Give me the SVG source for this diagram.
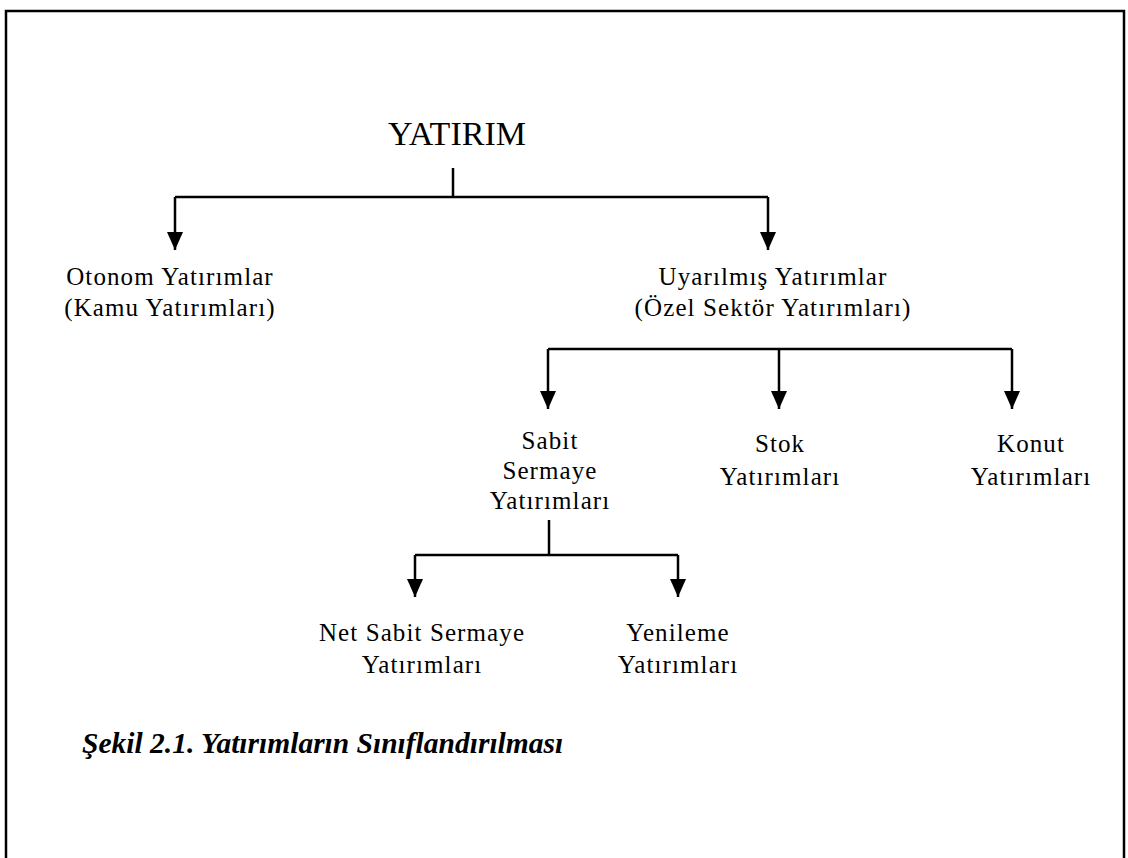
<svg xmlns="http://www.w3.org/2000/svg" width="1128" height="858" viewBox="0 0 1128 858">
<style>
.t{font-family:"Liberation Serif","Times New Roman",serif;font-size:25px;fill:#000;text-anchor:middle;letter-spacing:1.1px}
.h{font-family:"Liberation Serif","Times New Roman",serif;font-size:34px;fill:#000;text-anchor:middle}
.c{font-family:"Liberation Serif","Times New Roman",serif;font-size:29.5px;font-weight:bold;font-style:italic;fill:#000}
.ln{fill:none;stroke:#000;stroke-width:2.5}
.ar{fill:none;stroke:#000;stroke-width:2.5;marker-end:url(#ah)}
</style>
<defs>
<marker id="ah" markerUnits="userSpaceOnUse" markerWidth="18" markerHeight="16" viewBox="0 0 18 16" refX="18" refY="8" orient="auto">
<path d="M0,0 L18,8 L0,16 Z" fill="#000"/>
</marker>
</defs>
<rect width="1128" height="858" fill="#fff"/>
<path d="M6,870 V11 H1124 V870" fill="none" stroke="#000" stroke-width="2.5"/>
<g id="connectors">
<path class="ln" d="M453,168 V197"/>
<path class="ln" d="M175,197 H768"/>
<path class="ar" d="M175,197 V250"/>
<path class="ar" d="M768,197 V250"/>
<path class="ln" d="M548,349 H1012"/>
<path class="ar" d="M548,349 V409"/>
<path class="ar" d="M779,349 V409"/>
<path class="ar" d="M1012,349 V409"/>
<path class="ln" d="M549,520 V555"/>
<path class="ln" d="M415,555 H678"/>
<path class="ar" d="M415,555 V597"/>
<path class="ar" d="M678,555 V597"/>
</g>
<g id="yatirim"><text class="h" x="457" y="145">YATIRIM</text></g>
<g id="otonom"><text class="t" x="170" y="285">Otonom Yatırımlar</text><text class="t" x="170" y="316">(Kamu Yatırımları)</text></g>
<g id="uyarilmis"><text class="t" x="773" y="285">Uyarılmış Yatırımlar</text><text class="t" x="773" y="316">(Özel Sektör Yatırımları)</text></g>
<g id="sabit"><text class="t" x="550" y="449">Sabit</text><text class="t" x="550" y="479">Sermaye</text><text class="t" x="550" y="509">Yatırımları</text></g>
<g id="stok"><text class="t" x="780" y="452">Stok</text><text class="t" x="780" y="485">Yatırımları</text></g>
<g id="konut"><text class="t" x="1031" y="452">Konut</text><text class="t" x="1031" y="485">Yatırımları</text></g>
<g id="netsabit"><text class="t" x="422" y="641">Net Sabit Sermaye</text><text class="t" x="422" y="673">Yatırımları</text></g>
<g id="yenileme"><text class="t" x="678" y="641">Yenileme</text><text class="t" x="678" y="673">Yatırımları</text></g>
<g id="caption"><text class="c" x="82" y="753">Şekil 2.1. Yatırımların Sınıflandırılması</text></g>
</svg>
